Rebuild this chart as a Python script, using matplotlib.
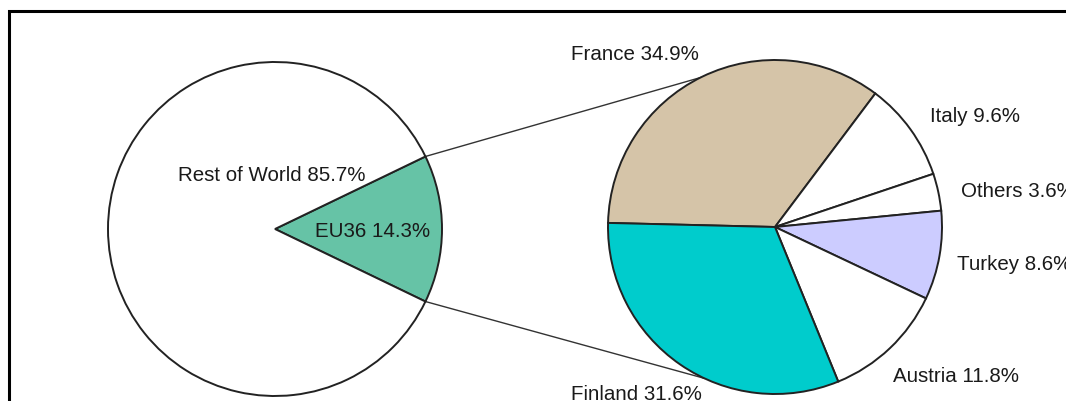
import matplotlib
matplotlib.use('Agg')
import matplotlib.pyplot as plt
from matplotlib.patches import Rectangle
import numpy as np

plt.rcParams['font.family'] = ['Liberation Sans', 'DejaVu Sans']

# world split
world_labels = ['EU36', 'Rest of World']
world_share = [14.3, 85.7]
world_colors = ['#66c3a6', 'white']

# EU36 breakdown
eu_labels = ['France', 'Italy', 'Others', 'Turkey', 'Austria', 'Finland']
eu_share = [34.9, 9.6, 3.6, 8.6, 11.8, 31.6]
eu_colors = ['#d5c4a8', 'white', 'white', '#ccccff', 'white', '#00cccc']

W, H = 1066, 402
fig = plt.figure(figsize=(W / 100, H / 100), dpi=100)
ax = fig.add_axes([0, 0, 1, 1])

# page coords in pixels, y up
left_c = (275, H - 230)
right_c = (775, H - 228)
r = 167

wedge_kw = dict(edgecolor='#222222', linewidth=1.4)

w_left, _ = ax.pie(world_share, colors=world_colors, center=left_c, radius=r,
                   startangle=-world_share[0] * 3.6 / 2, counterclock=True,
                   wedgeprops=wedge_kw)
w_right, _ = ax.pie(eu_share, colors=eu_colors, center=right_c, radius=r,
                    startangle=178.6, counterclock=False,
                    wedgeprops=wedge_kw)

# connector lines from EU36 wedge to the breakdown pie
eu_w = w_left[0]
for th_l, th_r in [(eu_w.theta2, 116.5), (eu_w.theta1, -115.0)]:
    x0 = left_c[0] + r * np.cos(np.radians(th_l))
    y0 = left_c[1] + r * np.sin(np.radians(th_l))
    x1 = right_c[0] + r * np.cos(np.radians(th_r))
    y1 = right_c[1] + r * np.sin(np.radians(th_r))
    ax.plot([x0, x1], [y0, y1], color='#333333', lw=1.0, zorder=0)

fs = 14.8
tc = '#1a1a1a'
ax.text(272, H - 176, f'{world_labels[1]} {world_share[1]}%', ha='center', va='center', fontsize=fs, color=tc)
ax.text(373, H - 232, f'{world_labels[0]} {world_share[0]}%', ha='center', va='center', fontsize=fs, color=tc)

eu_pos = {
    'France': (571, 54),
    'Italy': (930, 116),
    'Others': (961, 192),
    'Turkey': (957, 264),
    'Austria': (893, 377),
    'Finland': (571, 395),
}
for lab, val in zip(eu_labels, eu_share):
    x, y = eu_pos[lab]
    ax.text(x, H - y, f'{lab} {val}%', ha='left', va='center', fontsize=fs, color=tc)

# frame box around the chart
fig.patches.append(Rectangle((9 / W, -0.1), 1.2, (H - 12) / H + 0.1,
                             transform=fig.transFigure, fill=False,
                             edgecolor='black', linewidth=2.2))

ax.set_xlim(0, W)
ax.set_ylim(0, H)
ax.set_aspect('equal')
ax.axis('off')

plt.savefig('out.png', dpi=100)
